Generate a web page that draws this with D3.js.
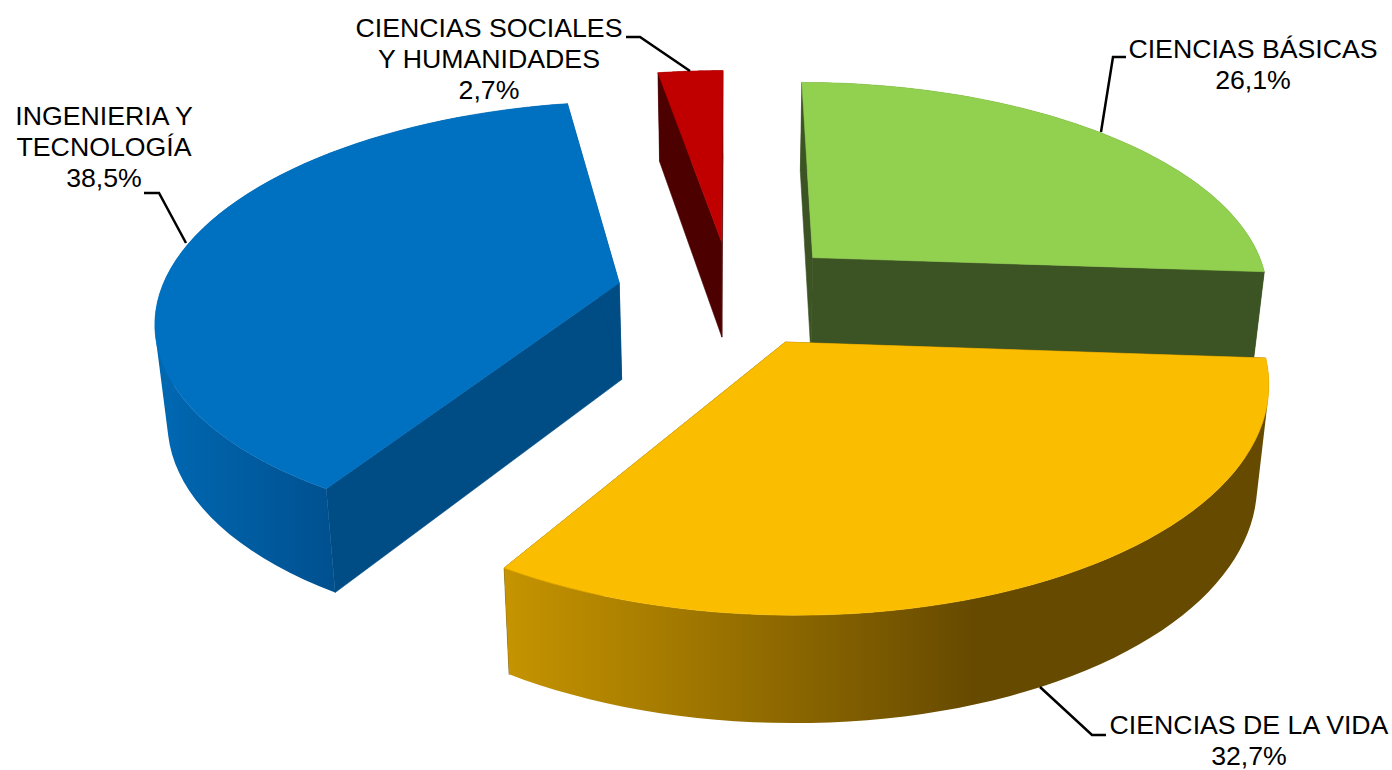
<!DOCTYPE html>
<html>
<head>
<meta charset="utf-8">
<script src="https://cdn.jsdelivr.net/npm/d3@7"></script>
<style>
    html, body { margin: 0; padding: 0; background: #fff; }
    svg { display: block; }
    text { font-family: "Liberation Sans", Arial, sans-serif; font-size: 26.7px; fill: #000; }
</style>
</head>
<body>
<svg id="chart"></svg>
<script>
// values, clockwise from 12 o'clock
const categories = ['CIENCIAS BÁSICAS', 'CIENCIAS DE LA VIDA', 'INGENIERIA Y TECNOLOGÍA', 'CIENCIAS SOCIALES Y HUMANIDADES'];
const shares = [26.1, 32.7, 38.5, 2.7];
const shareLabels = ['26,1%', '32,7%', '38,5%', '2,7%'];

const topColors = ['#92d050', '#fbbd00', '#0070c0', '#c00000'];
const cutColors = ['#3c5323', '#664a00', '#004c85', '#4c0000'];
const wallStops = [
    ['#3c5323', '#3c5323'],
    ['#c69400', '#664a00'],
    ['#0068b2', '#00508f'],
    ['#4c0000', '#4c0000']
];
const wallExtent = [[800, 1270], [505, 975], [160, 335], [650, 730]];

// labels are layout, not data
const labelLines = [
    ['CIENCIAS BÁSICAS', '26,1%'],
    ['CIENCIAS DE LA VIDA', '32,7%'],
    ['INGENIERIA Y', 'TECNOLOGÍA', '38,5%'],
    ['CIENCIAS SOCIALES', 'Y HUMANIDADES', '2,7%']
];
const labelPos = [[1253, 58], [1249, 734], [104, 125], [489, 37]];
const leaders = [
    [[1126, 57], [1113, 57], [1101, 132]],
    [[1106, 735], [1092, 735], [1040, 687]],
    [[144, 193], [159, 193], [186, 243]],
    [[626, 37], [640, 37], [690, 71]]
];
const drawOrder = [3, 0, 2, 1];

const width = 1392, height = 770;

// perspective projection of the disc plane
const x0 = 731, y0 = 293, A = 459, B = 213, k = 0.157;
const explode = 0.25, depth = 97, bottomShrink = 0.978;

function project(X, Y, down) {
    const w = 1 + k * Y;
    let x = x0 + A * X / w;
    let y = y0 - B * Y / w;
    if (down) {
        x = x0 + (x - x0) * bottomShrink;
        y = y + depth / Math.sqrt(w);
    }
    return [x, y];
}

// one outer wall piece, wound the same way as all the others so the fill never cancels
function wallQuad(q) {
    return d3.polygonArea(q) < 0 ? q.slice().reverse() : q;
}

const svg = d3.select('#chart').attr('width', width).attr('height', height);
const defs = svg.append('defs');
const line = d3.line();
const closed = d3.line().curve(d3.curveLinearClosed);

const arcs = d3.pie().sort(null).startAngle(0).endAngle(2 * Math.PI)(shares);

arcs.forEach((d, i) => {
    const mid = (d.startAngle + d.endAngle) / 2;
    const ox = explode * Math.sin(mid), oy = explode * Math.cos(mid);
    const pt = (a, r, down) => project(ox + r * Math.sin(a), oy + r * Math.cos(a), down);
    const steps = d3.range(0, 61).map(s => d.startAngle + (d.endAngle - d.startAngle) * s / 60);

    const grad = defs.append('linearGradient')
        .attr('id', 'wall' + i)
        .attr('gradientUnits', 'userSpaceOnUse')
        .attr('x1', wallExtent[i][0]).attr('x2', wallExtent[i][1])
        .attr('y1', 0).attr('y2', 0);
    grad.append('stop').attr('offset', 0).attr('stop-color', wallStops[i][0]);
    grad.append('stop').attr('offset', 1).attr('stop-color', wallStops[i][1]);

    d.faces = {
        cutA: [pt(d.startAngle, 0), pt(d.startAngle, 1), pt(d.startAngle, 1, true), pt(d.startAngle, 0, true)],
        cutB: [pt(d.endAngle, 0), pt(d.endAngle, 1), pt(d.endAngle, 1, true), pt(d.endAngle, 0, true)],
        wall: d3.pairs(steps).map(([a, b]) => wallQuad([pt(a, 1), pt(b, 1), pt(b, 1, true), pt(a, 1, true)])),
        top: [pt(d.startAngle, 0)].concat(steps.map(a => pt(a, 1)))
    };
});

const slices = svg.selectAll('.slice')
    .data(drawOrder.map(i => ({...arcs[i], idx: i})))
    .join('g')
    .attr('class', 'slice');

// the thin strokes hide the light hairlines between neighbouring faces
slices.append('path').attr('d', d => closed(d.faces.cutA))
    .attr('fill', d => cutColors[d.idx]).attr('stroke', d => cutColors[d.idx]).attr('stroke-width', 0.6);
slices.append('path').attr('d', d => closed(d.faces.cutB))
    .attr('fill', d => cutColors[d.idx]).attr('stroke', d => cutColors[d.idx]).attr('stroke-width', 0.6);
slices.append('path')
    .attr('d', d => d.faces.wall.map(q => closed(q)).join(''))
    .attr('fill', d => `url(#wall${d.idx})`);
slices.append('path').attr('d', d => closed(d.faces.top))
    .attr('fill', d => topColors[d.idx]).attr('stroke', d => topColors[d.idx]).attr('stroke-width', 0.6);

// leader lines
svg.selectAll('.leader')
    .data(leaders)
    .join('path')
    .attr('class', 'leader')
    .attr('d', d => line(d))
    .attr('fill', 'none')
    .attr('stroke', '#000')
    .attr('stroke-width', 2.5);

// labels
const labels = svg.selectAll('.label')
    .data(labelLines)
    .join('text')
    .attr('class', 'label')
    .attr('text-anchor', 'middle')
    .attr('transform', (d, i) => `translate(${labelPos[i][0]},${labelPos[i][1]})`);

labels.selectAll('tspan')
    .data(d => d)
    .join('tspan')
    .attr('x', 0)
    .attr('y', (d, i) => i * 31)
    .text(d => d);
</script>
</body>
</html>
